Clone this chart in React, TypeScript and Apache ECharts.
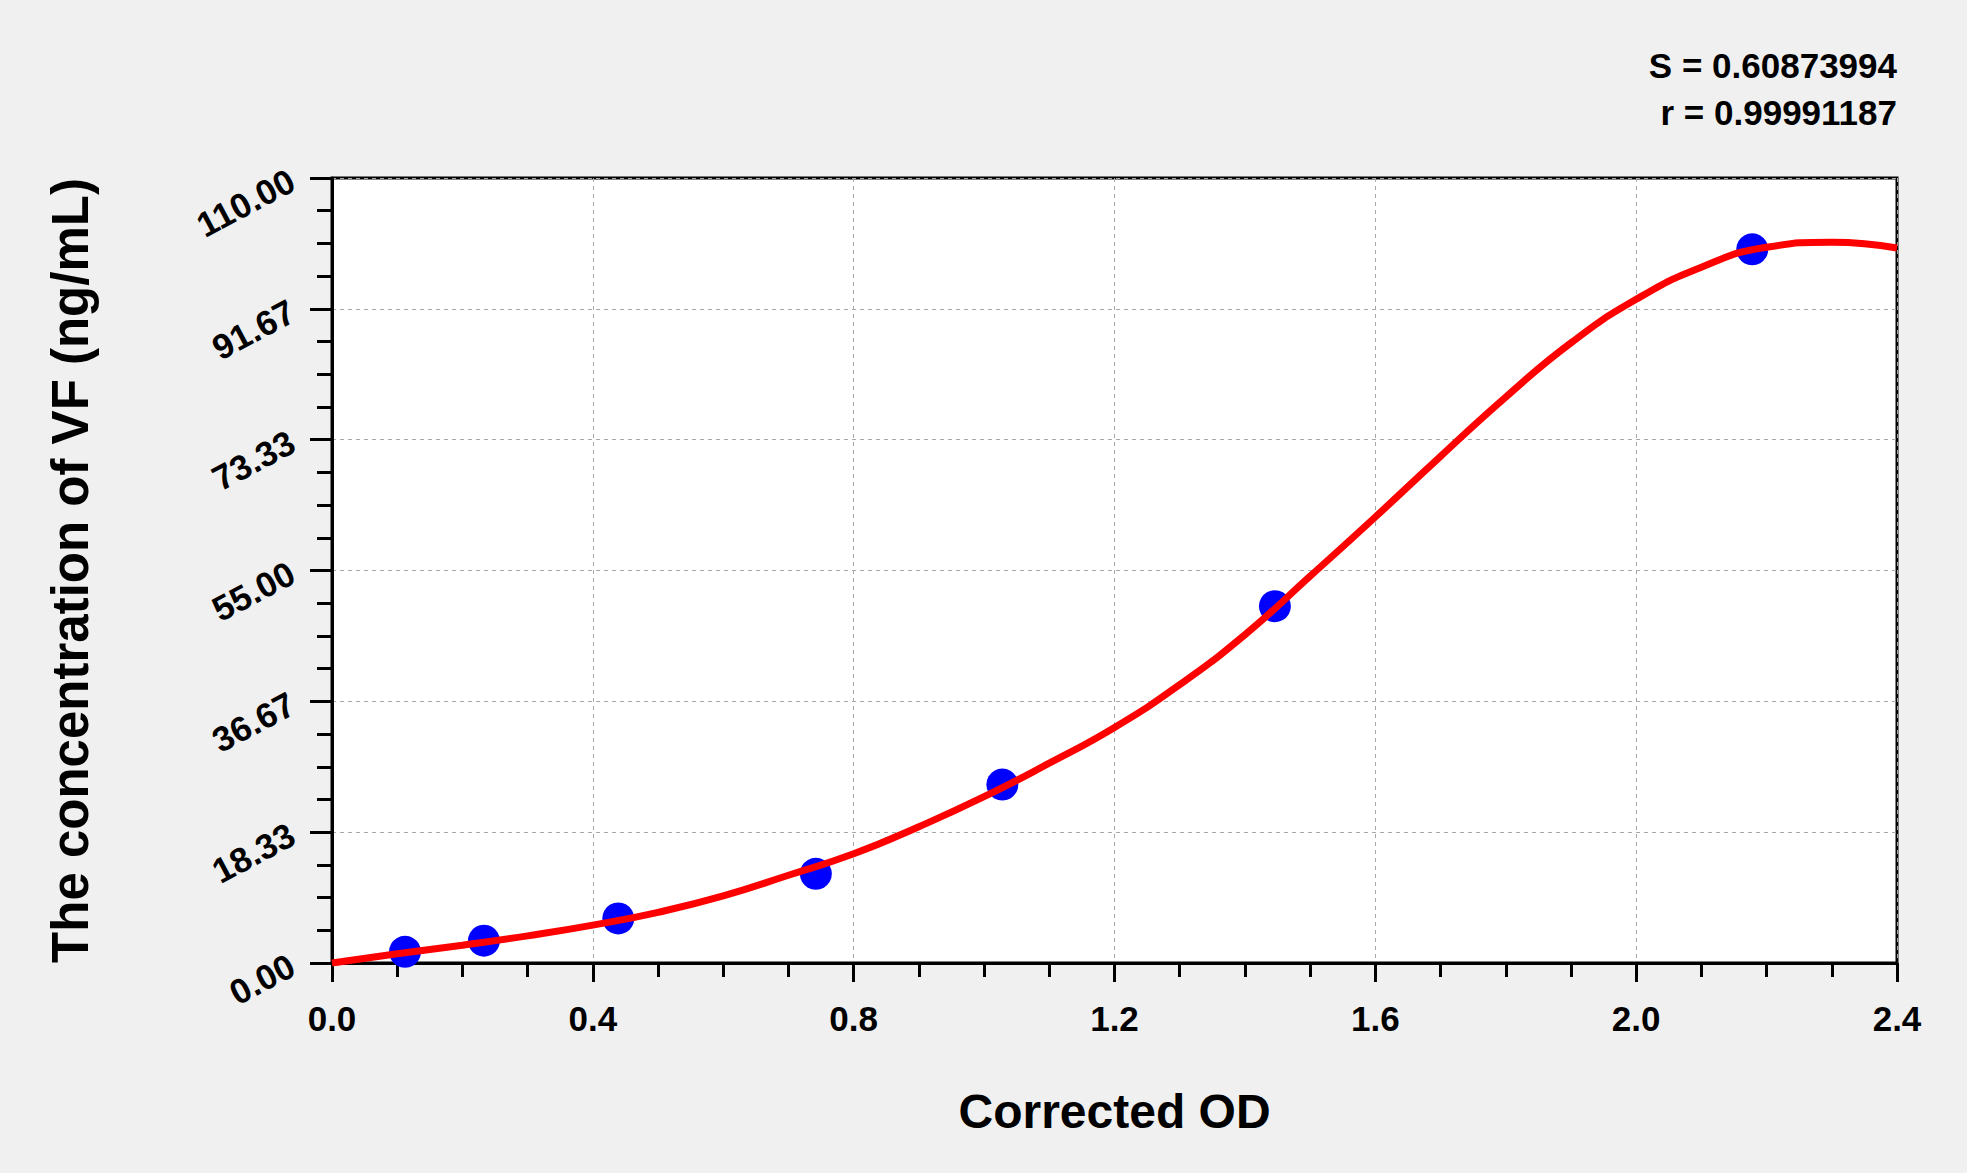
import React, { useEffect, useRef } from 'react';
import * as echarts from 'echarts';

// standards (measured)
const standardOD = [0.112, 0.233, 0.439, 0.742, 1.028, 1.446, 2.178];
const standardConc = [1.56, 3.13, 6.25, 12.5, 25, 50, 100];

// fitted curve
const curveOD = [0, 0.1, 0.2, 0.3, 0.4, 0.5, 0.6, 0.7, 0.8, 0.9, 1.0, 1.1, 1.2, 1.3, 1.4, 1.5, 1.6, 1.7, 1.8, 1.9, 2.0, 2.1, 2.2, 2.3, 2.4];
const curveConc = [0, 1.3, 2.5, 3.8, 5.3, 7.1, 9.4, 12.3, 15.3, 19.1, 23.3, 28.0, 33.0, 39.0, 46.0, 54.2, 62.5, 71.0, 79.3, 86.9, 93.0, 97.5, 100.3, 101.0, 100.2];

const fitLines = ['S = 0.60873994', 'r = 0.99991187'];

const FONT = '"Liberation Sans", Arial, sans-serif';

const App: React.FC = () => {
  const chartRef = useRef<HTMLDivElement>(null);

  useEffect(() => {
    document.body.style.margin = '0';
    if (!chartRef.current) return;
    const chart = echarts.init(chartRef.current, undefined, { renderer: 'svg' });

    const option = {
      animation: false,
      backgroundColor: '#f0f0f0',
      textStyle: { fontFamily: FONT },
      grid: {
        left: 332,
        top: 178,
        right: 70,
        bottom: 210,
        show: true,
        backgroundColor: '#ffffff',
        borderColor: '#000000',
        borderWidth: 3,
      },
      xAxis: {
        type: 'value',
        min: 0,
        max: 2.4,
        interval: 0.4,
        name: 'Corrected OD',
        nameLocation: 'middle',
        nameGap: 124,
        nameTextStyle: { fontFamily: FONT, fontSize: 48, fontWeight: 'bold', color: '#000' },
        axisLine: { show: true, lineStyle: { color: '#000', width: 3 } },
        axisTick: { show: true, inside: false, length: 19, lineStyle: { color: '#000', width: 3 } },
        minorTick: { show: true, splitNumber: 4, length: 14, lineStyle: { color: '#000', width: 3 } },
        axisLabel: {
          margin: 38,
          fontFamily: FONT,
          fontSize: 35,
          fontWeight: 'bold',
          color: '#000',
          formatter: (v: number) => v.toFixed(1),
        },
        splitLine: { show: true, lineStyle: { color: '#a8a8a8', width: 1, type: [4, 4] } },
      },
      yAxis: {
        type: 'value',
        min: 0,
        max: 110,
        interval: 110 / 6,
        name: 'The concentration of VF (ng/mL)',
        nameLocation: 'middle',
        nameGap: 236,
        nameTextStyle: { fontFamily: FONT, fontSize: 51, fontWeight: 'bold', color: '#000' },
        axisLine: { show: true, lineStyle: { color: '#000', width: 3 } },
        axisTick: { show: true, inside: false, length: 22, lineStyle: { color: '#000', width: 3 } },
        minorTick: { show: true, splitNumber: 4, length: 15, lineStyle: { color: '#000', width: 3 } },
        axisLabel: {
          margin: 40,
          rotate: 28,
          fontFamily: FONT,
          fontSize: 35,
          fontWeight: 'bold',
          color: '#000',
          formatter: (v: number) => v.toFixed(2),
        },
        splitLine: { show: true, lineStyle: { color: '#a8a8a8', width: 1, type: [4, 4] } },
      },
      graphic: fitLines.map((t, i) => ({
        type: 'text',
        x: 1897,
        y: 65 + i * 47,
        style: {
          text: t,
          fontFamily: FONT,
          fontSize: 35,
          fontWeight: 'bold',
          fill: '#000',
          textAlign: 'right',
          textVerticalAlign: 'middle',
        },
      })),
      series: [
        {
          type: 'scatter',
          data: standardOD.map((x, i) => [x, standardConc[i]]),
          symbol: 'circle',
          symbolSize: 32,
          itemStyle: { color: '#0000ff', opacity: 1 },
          z: 2,
        },
        {
          type: 'line',
          data: curveOD.map((x, i) => [x, curveConc[i]]),
          showSymbol: false,
          smooth: 0.5,
          lineStyle: { color: '#ff0000', width: 7 },
          z: 3,
        },
      ],
    };

    chart.setOption(option);
    return () => {
      chart.dispose();
    };
  }, []);

  return <div ref={chartRef} style={{ width: '1967px', height: '1173px' }} />;
};

export default App;
